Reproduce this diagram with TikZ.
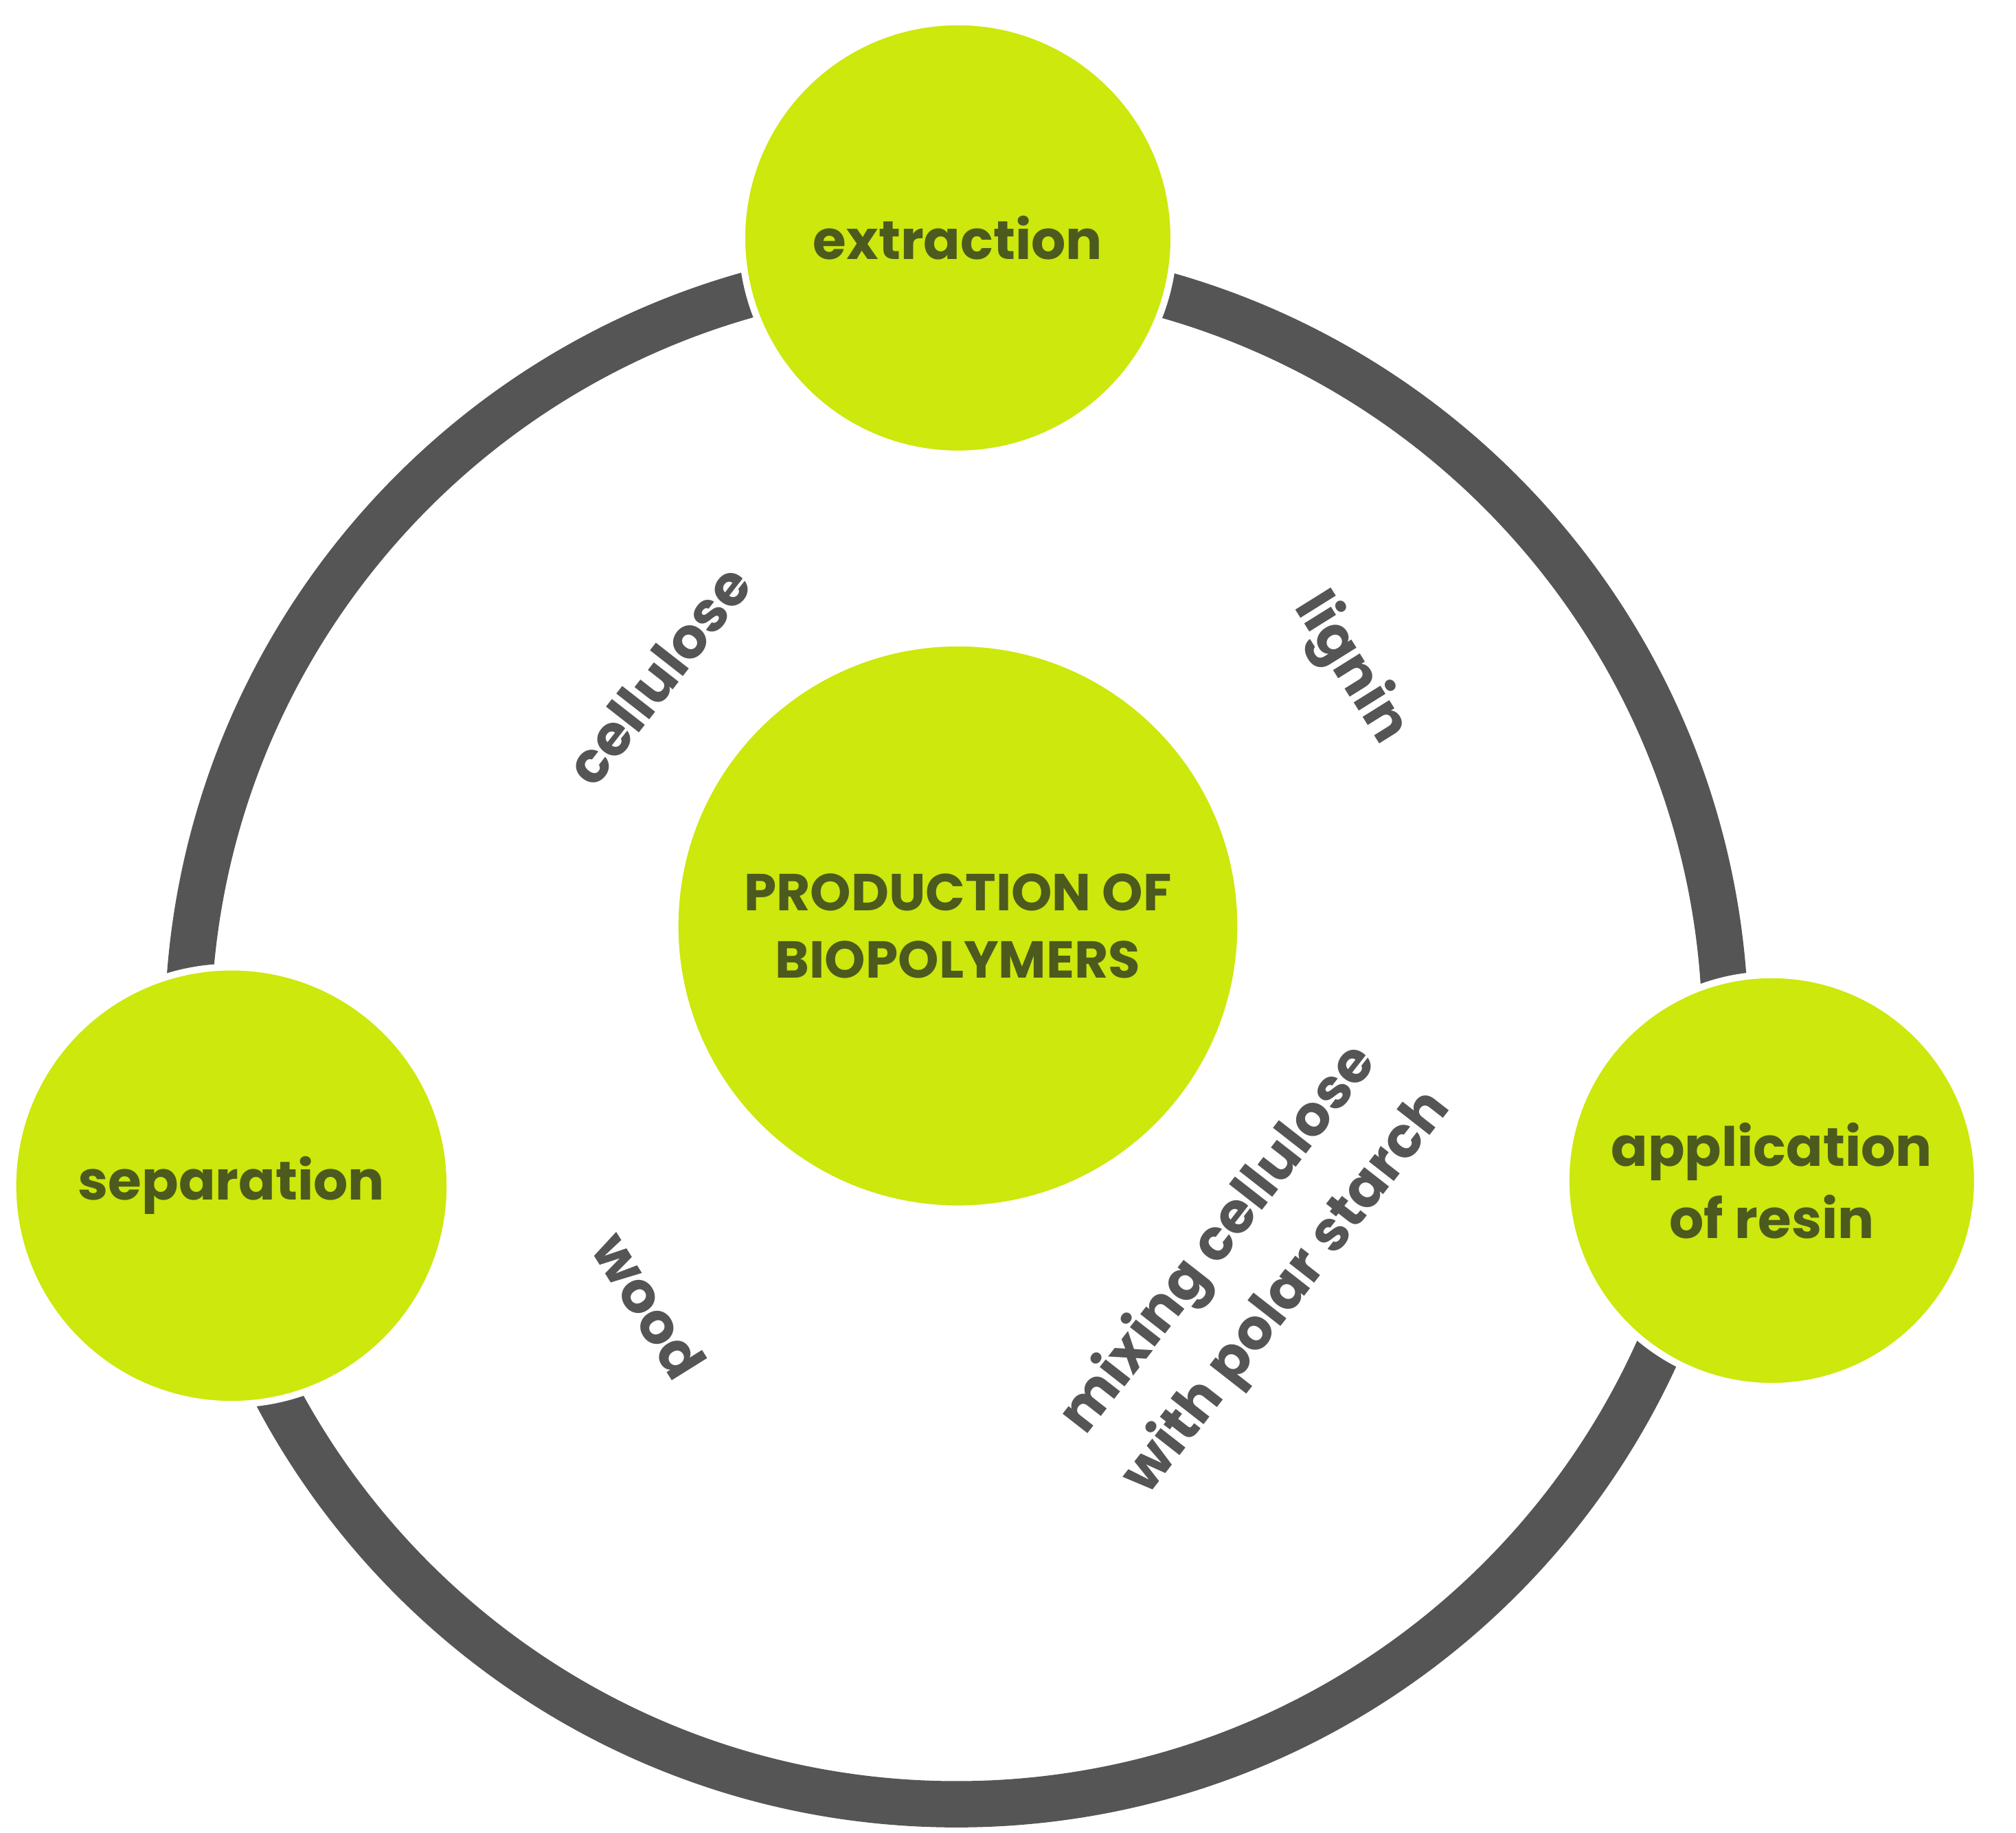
\documentclass[tikz,border=0pt]{standalone}
\usepackage{fontspec}
\setmainfont{Poppins}
\definecolor{lime}{HTML}{CCE80C}
\definecolor{olive}{HTML}{4C5A1E}
\definecolor{ring}{HTML}{555555}
\tikzset{
  stage/.style={circle, fill=lime, draw=white, line width=1.5pt, inner sep=0pt, align=center,
    text=olive, font=\fontsize{12}{16}\selectfont\bfseries},
  tag/.style={text=ring, align=center, font=\fontsize{12.5}{19}\selectfont\bfseries}
}
\begin{document}
\begin{tikzpicture}
  \useasboundingbox (0,0) rectangle (15.68,14.25);
  \coordinate (mid) at (7.44,6.20);
  \draw [ring, line width=0.36cm] (mid) circle [radius=5.98];

  \node (extr) [stage, minimum size=3.36cm] at (7.45,12.40) {extraction};
  \node (sep)  [stage, minimum size=3.40cm] at (1.80,5.03) {separation};
  \node (res)  [stage, minimum size=3.20cm] at (13.78,5.07) {application\\of resin};
  \node (prod) [stage, minimum size=4.40cm, font=\fontsize{11.5}{15}\selectfont\bfseries]
    at (7.45,7.05) {PRODUCTION OF\\BIOPOLYMERS};

  \node (cell) [tag, rotate=52]  at (5.12,9.00) {cellulose};
  \node (lig)  [tag, rotate=-58] at (10.50,9.05) {lignin};
  \node (wood) [tag, rotate=-58] at (5.05,4.10) {wood};
  \node (mix)  [tag, rotate=52]  at (9.75,4.40) {mixing cellulose\\with polar starch};
\end{tikzpicture}
\end{document}
